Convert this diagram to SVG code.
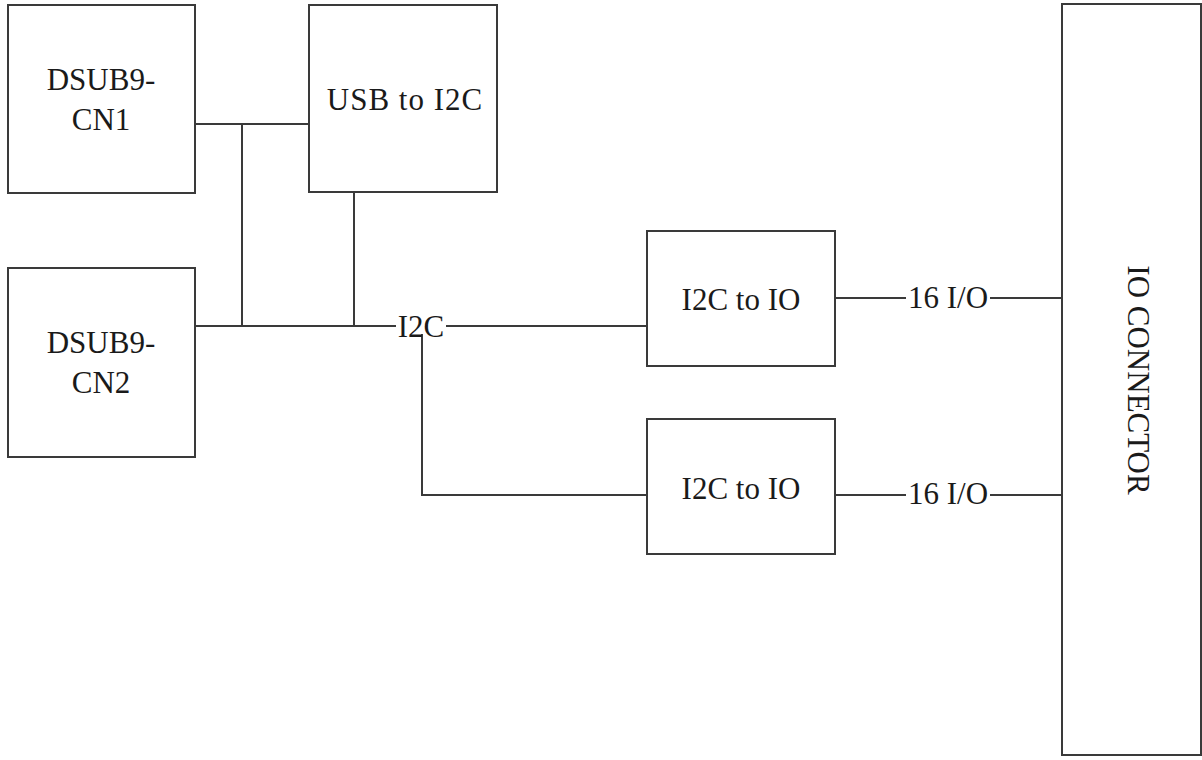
<svg xmlns="http://www.w3.org/2000/svg" width="1202" height="760" viewBox="0 0 1202 760">
<style>
.box{fill:#fff;stroke:#3a3a3a;stroke-width:2}
.ln{fill:none;stroke:#3a3a3a;stroke-width:2}
</style>
<rect width="1202" height="760" fill="#fff"/>
<g id="connectors">
<path class="ln" d="M195,124 H309"/>
<path class="ln" d="M242,124 V326"/>
<path class="ln" d="M354,192 V326"/>
<path class="ln" d="M195,326 H396"/>
<path class="ln" d="M446,326 H647"/>
<path class="ln" d="M422,334 V495 H647"/>
<path class="ln" d="M835,298 H906"/>
<path class="ln" d="M990,298 H1062"/>
<path class="ln" d="M835,495 H906"/>
<path class="ln" d="M990,495 H1062"/>
<g font-family="Liberation Serif, serif" font-size="31" fill="#1a1a1a" text-anchor="middle">
<text x="421" y="337">I2C</text>
<text x="948" y="308">16 I/O</text>
<text x="948" y="504">16 I/O</text>
</g>
</g>
<g font-family="Liberation Serif, serif" font-size="31" fill="#1a1a1a" text-anchor="middle">
<g id="cn1">
<rect class="box" x="8" y="5" width="187" height="188"/>
<text x="101" y="90">DSUB9-</text>
<text x="101" y="130">CN1</text>
</g>
<g id="usb">
<rect class="box" x="309" y="5" width="188" height="187"/>
<text x="405" y="110" letter-spacing="1">USB to I2C</text>
</g>
<g id="cn2">
<rect class="box" x="8" y="268" width="187" height="189"/>
<text x="101" y="353">DSUB9-</text>
<text x="101" y="393">CN2</text>
</g>
<g id="io1">
<rect class="box" x="647" y="231" width="188" height="135"/>
<text x="741" y="310">I2C to IO</text>
</g>
<g id="io2">
<rect class="box" x="647" y="419" width="188" height="135"/>
<text x="741" y="499">I2C to IO</text>
</g>
<g id="ioconn">
<rect class="box" x="1062" y="4" width="139" height="751"/>
<text transform="translate(1128,380) rotate(90)" x="0" y="0">IO CONNECTOR</text>
</g>
</g>
</svg>
